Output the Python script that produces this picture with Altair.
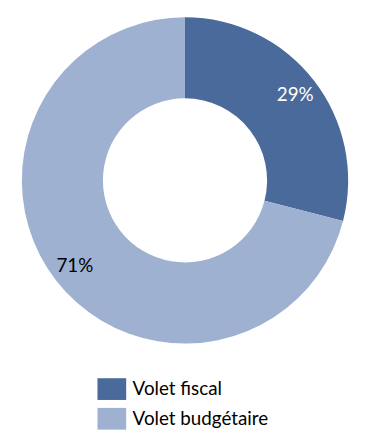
import altair as alt
import pandas as pd

categories = ["Volet fiscal", "Volet budgétaire"]
values = [29, 71]
labels = ["29%", "71%"]
colors = ["#4A6A9B", "#9EB1D0"]
label_colors = ["white", "black"]

df = pd.DataFrame({
    "cat": categories,
    "val": values,
    "lab": labels,
    "order": [0, 1],
    "lc": label_colors,
})

base = alt.Chart(df).encode(
    theta=alt.Theta("val:Q", stack=True),
    order=alt.Order("order:Q"),
)

arcs = base.mark_arc(outerRadius=165, innerRadius=83).encode(
    color=alt.Color(
        "cat:N",
        scale=alt.Scale(domain=categories, range=colors),
        sort=categories,
        legend=alt.Legend(
            title=None,
            orient="none",
            legendX=94,
            legendY=372,
            direction="vertical",
            symbolType="M-1.32,-1H1.32V1H-1.32Z",
            symbolSize=484,
            symbolStrokeWidth=0,
            symbolOpacity=1,
            rowPadding=8,
            labelOffset=10,
            labelFont="Lato",
            labelFontSize=19,
            labelColor="black",
        ),
    )
)

text = base.mark_text(radius=141, font="Lato", fontSize=19).encode(
    text="lab:N",
    color=alt.Color("lc:N", scale=None),
)

chart = (arcs + text).properties(width=358, height=344).configure_view(stroke=None).configure(padding=0)

chart.save("out.html", embed_options={"renderer": "svg", "actions": False})
